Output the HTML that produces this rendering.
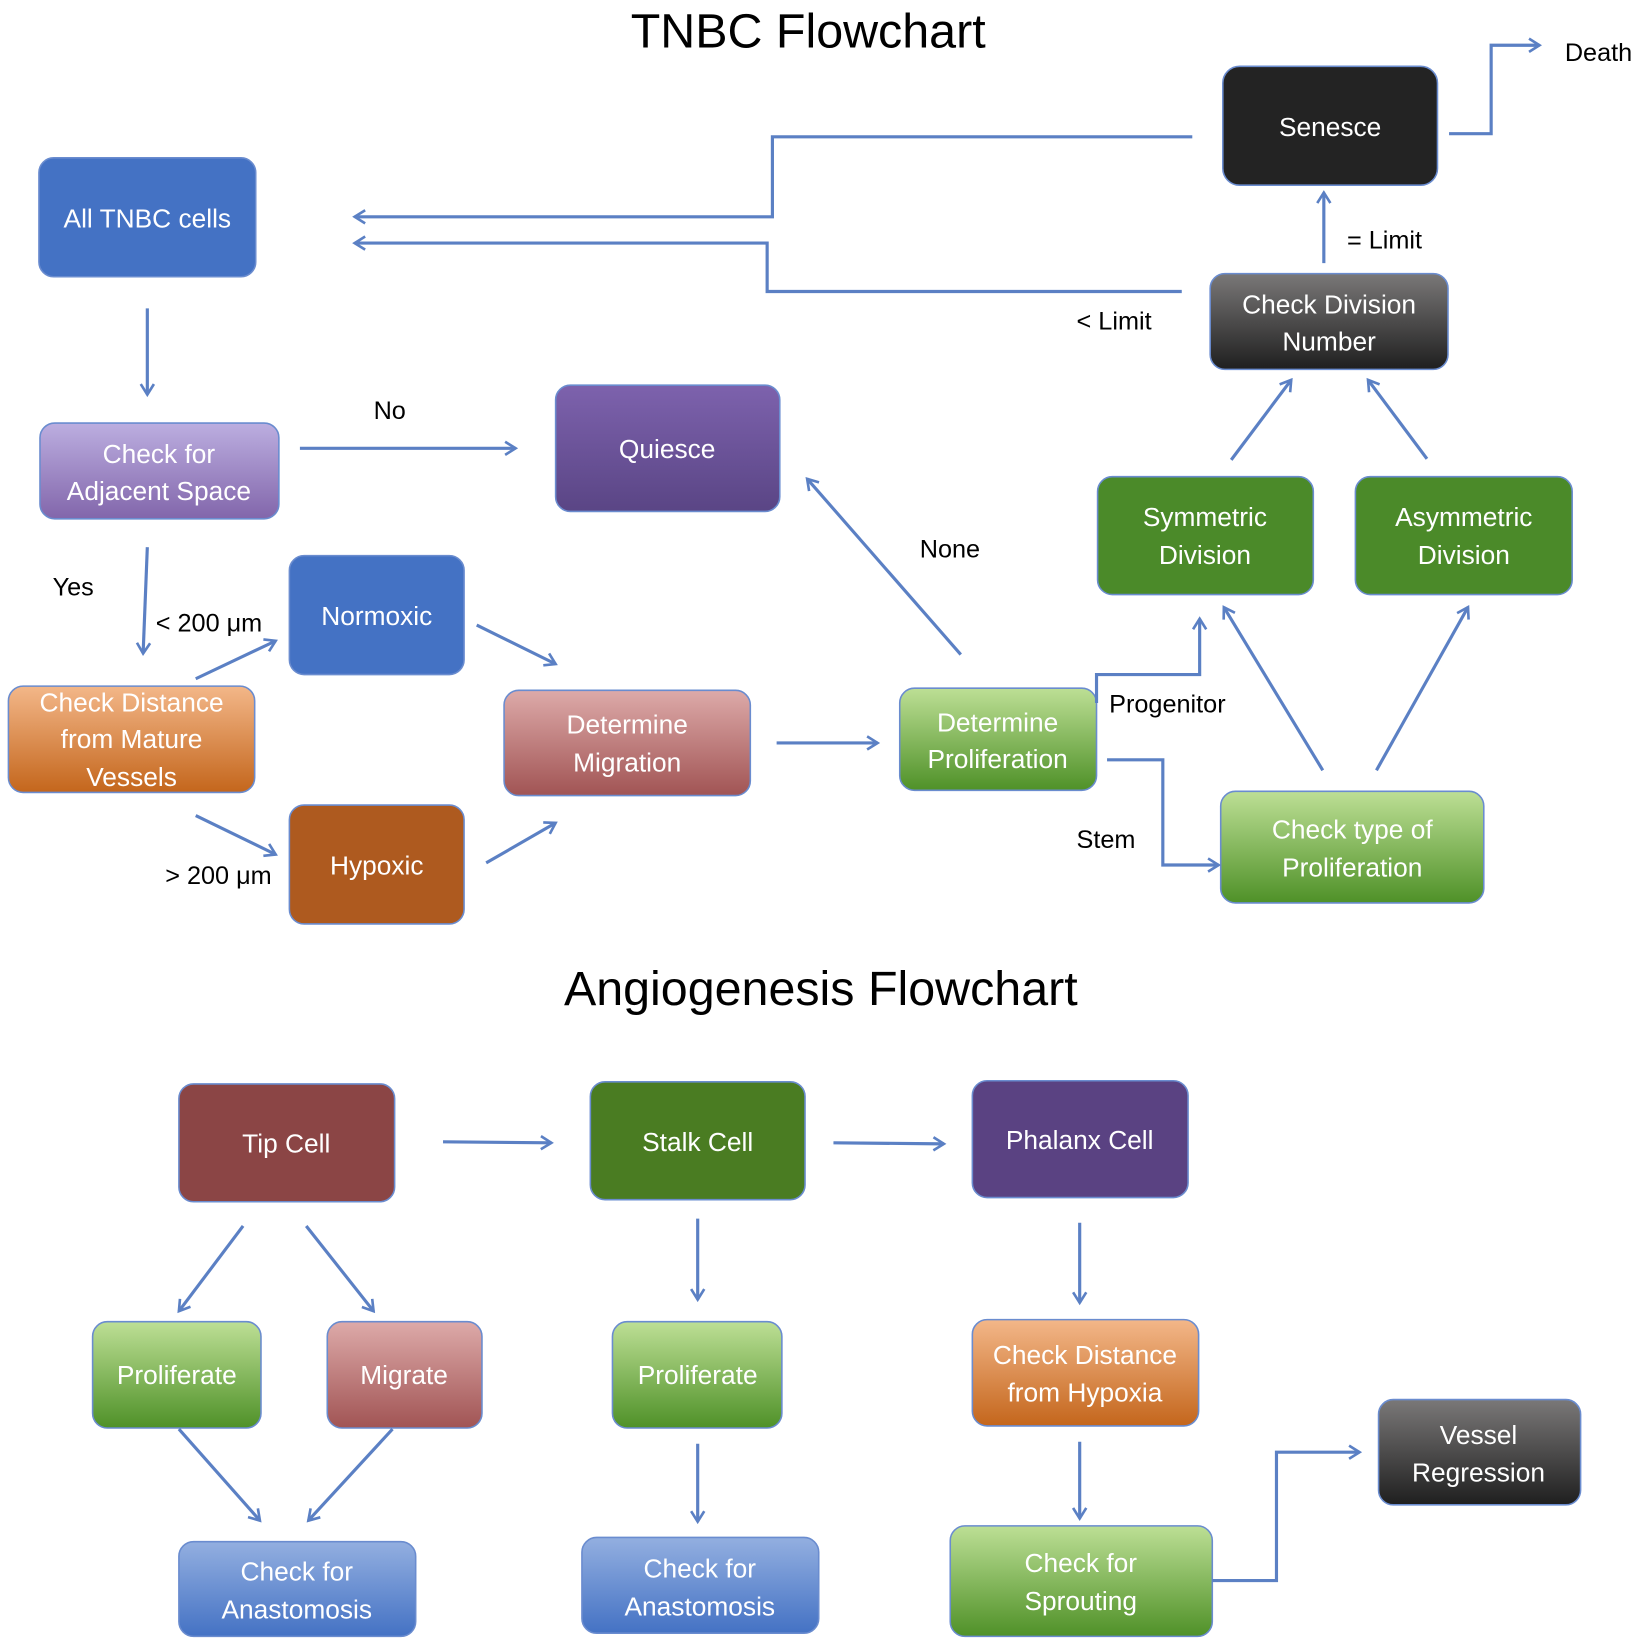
<!DOCTYPE html>
<html><head><meta charset="utf-8"><style>
html,body{margin:0;padding:0;background:#fff}
svg{display:block}
text{font-family:"Liberation Sans","DejaVu Sans",sans-serif}
.b{font-size:25px;fill:#fff;text-anchor:middle}
.l{font-size:24px;fill:#000}
.c{fill:none;stroke:#5b80c4;stroke-width:3;marker-end:url(#a)}
</style></head><body>
<svg width="1649" height="1649" viewBox="0 0 1567 1567" xmlns="http://www.w3.org/2000/svg">
<defs>
<marker id="a" viewBox="0 0 12 12" refX="10" refY="6" markerWidth="5" markerHeight="5" orient="auto" markerUnits="strokeWidth">
<polyline points="2,1 10,6 2,11" fill="none" stroke="#5b80c4" stroke-width="2"/></marker>
<linearGradient id="lav" x1="0" y1="0" x2="0" y2="1"><stop offset="0" stop-color="#bcaee0"/><stop offset="1" stop-color="#8266ab"/></linearGradient>
<linearGradient id="pur" x1="0" y1="0" x2="0" y2="1"><stop offset="0" stop-color="#7d62ad"/><stop offset="1" stop-color="#5a4585"/></linearGradient>
<linearGradient id="org" x1="0" y1="0" x2="0" y2="1"><stop offset="0" stop-color="#f3b789"/><stop offset="1" stop-color="#c4661c"/></linearGradient>
<linearGradient id="ros" x1="0" y1="0" x2="0" y2="1"><stop offset="0" stop-color="#ddaaa9"/><stop offset="1" stop-color="#a15454"/></linearGradient>
<linearGradient id="lg" x1="0" y1="0" x2="0" y2="1"><stop offset="0" stop-color="#bddf95"/><stop offset="1" stop-color="#4f9128"/></linearGradient>
<linearGradient id="gry" x1="0" y1="0" x2="0" y2="1"><stop offset="0" stop-color="#7a7878"/><stop offset="1" stop-color="#1f1f1f"/></linearGradient>
<linearGradient id="blu" x1="0" y1="0" x2="0" y2="1"><stop offset="0" stop-color="#93afe0"/><stop offset="1" stop-color="#4472c4"/></linearGradient>
</defs>
<g stroke="#6a8ccf" stroke-width="1.5">
<rect x="37" y="150" width="206" height="113" rx="14" fill="#4472c4"/>
<rect x="38" y="402" width="227" height="91" rx="14" fill="url(#lav)"/>
<rect x="528" y="366" width="213" height="120" rx="14" fill="url(#pur)"/>
<rect x="275" y="528" width="166" height="113" rx="14" fill="#4472c4"/>
<rect x="8" y="652" width="234" height="101" rx="14" fill="url(#org)"/>
<rect x="275" y="765" width="166" height="113" rx="14" fill="#ae5a1f"/>
<rect x="479" y="656" width="234" height="100" rx="14" fill="url(#ros)"/>
<rect x="855" y="654" width="187" height="97" rx="14" fill="url(#lg)"/>
<rect x="1162" y="63" width="204" height="113" rx="16" fill="#232323"/>
<rect x="1150" y="260" width="226" height="91" rx="14" fill="url(#gry)"/>
<rect x="1043" y="453" width="205" height="112" rx="14" fill="#4b8a29"/>
<rect x="1288" y="453" width="206" height="112" rx="14" fill="#4b8a29"/>
<rect x="1160" y="752" width="250" height="106" rx="14" fill="url(#lg)"/>
<rect x="170" y="1030" width="205" height="112" rx="14" fill="#8b4545"/>
<rect x="561" y="1028" width="204" height="112" rx="14" fill="#4a7c22"/>
<rect x="924" y="1027" width="205" height="111" rx="14" fill="#5a4282"/>
<rect x="88" y="1256" width="160" height="101" rx="14" fill="url(#lg)"/>
<rect x="311" y="1256" width="147" height="101" rx="14" fill="url(#ros)"/>
<rect x="582" y="1256" width="161" height="101" rx="14" fill="url(#lg)"/>
<rect x="924" y="1254" width="215" height="101" rx="14" fill="url(#org)"/>
<rect x="170" y="1465" width="225" height="90" rx="14" fill="url(#blu)"/>
<rect x="553" y="1461" width="225" height="91" rx="14" fill="url(#blu)"/>
<rect x="903" y="1450" width="249" height="105" rx="14" fill="url(#lg)"/>
<rect x="1310" y="1330" width="192" height="100" rx="14" fill="url(#gry)"/>
</g>
<g class="b">
<text x="140" y="216">All TNBC cells</text>
<text x="151" y="440">Check for</text><text x="151" y="475">Adjacent Space</text>
<text x="634" y="435">Quiesce</text>
<text x="358" y="594">Normoxic</text>
<text x="125" y="676">Check Distance</text><text x="125" y="711">from Mature</text><text x="125" y="747">Vessels</text>
<text x="358" y="831">Hypoxic</text>
<text x="596" y="697">Determine</text><text x="596" y="733">Migration</text>
<text x="948" y="695">Determine</text><text x="948" y="730">Proliferation</text>
<text x="1264" y="129">Senesce</text>
<text x="1263" y="298">Check Division</text><text x="1263" y="333">Number</text>
<text x="1145" y="500">Symmetric</text><text x="1145" y="536">Division</text>
<text x="1391" y="500">Asymmetric</text><text x="1391" y="536">Division</text>
<text x="1285" y="797">Check type of</text><text x="1285" y="833">Proliferation</text>
<text x="272" y="1095">Tip Cell</text>
<text x="663" y="1094">Stalk Cell</text>
<text x="1026" y="1092">Phalanx Cell</text>
<text x="168" y="1315">Proliferate</text>
<text x="384" y="1315">Migrate</text>
<text x="663" y="1315">Proliferate</text>
<text x="1031" y="1296">Check Distance</text><text x="1031" y="1332">from Hypoxia</text>
<text x="282" y="1502">Check for</text><text x="282" y="1538">Anastomosis</text>
<text x="665" y="1499">Check for</text><text x="665" y="1535">Anastomosis</text>
<text x="1027" y="1494">Check for</text><text x="1027" y="1530">Sprouting</text>
<text x="1405" y="1372">Vessel</text><text x="1405" y="1408">Regression</text>
</g>
<text x="768" y="45" font-size="46" text-anchor="middle">TNBC Flowchart</text>
<text x="780" y="955" font-size="46" text-anchor="middle">Angiogenesis Flowchart</text>
<g class="l">
<text x="1487" y="58">Death</text>
<text x="1280" y="236">= Limit</text>
<text x="1023" y="313">&lt; Limit</text>
<text x="355" y="398">No</text>
<text x="50" y="566">Yes</text>
<text x="148" y="600">&lt; 200 μm</text>
<text x="157" y="840">&gt; 200 μm</text>
<text x="874" y="530">None</text>
<text x="1054" y="677">Progenitor</text>
<text x="1023" y="806">Stem</text>
</g>
<g class="c">
<polyline points="1377,127 1417,127 1417,43 1463,43"/>
<polyline points="1133,130 734,130 734,206 337,206"/>
<polyline points="1123,277 729,277 729,231 337,231"/>
<polyline points="1258,250 1258,183"/>
<polyline points="140,293 140,375"/>
<polyline points="285,426 490,426"/>
<polyline points="140,520 136,621"/>
<polyline points="186,645 262,609"/>
<polyline points="186,775 262,812"/>
<polyline points="453,594 528,631"/>
<polyline points="462,820 528,782"/>
<polyline points="738,706 834,706"/>
<polyline points="913,622 767,455"/>
<polyline points="1042,668 1042,641 1140,641 1140,588"/>
<polyline points="1052,722 1105,722 1105,822 1158,822"/>
<polyline points="1257,732 1163,577"/>
<polyline points="1308,732 1395,577"/>
<polyline points="1170,437 1227,361"/>
<polyline points="1356,436 1300,361"/>
<polyline points="421,1085 524,1086"/>
<polyline points="792,1086 897,1087"/>
<polyline points="231,1165 170,1246"/>
<polyline points="291,1165 355,1246"/>
<polyline points="170,1358 247,1445"/>
<polyline points="373,1358 293,1445"/>
<polyline points="663,1158 663,1235"/>
<polyline points="663,1372 663,1446"/>
<polyline points="1026,1162 1026,1238"/>
<polyline points="1026,1370 1026,1443"/>
<polyline points="1152,1502 1213,1502 1213,1380 1292,1380"/>
</g>
</svg>
</body></html>
